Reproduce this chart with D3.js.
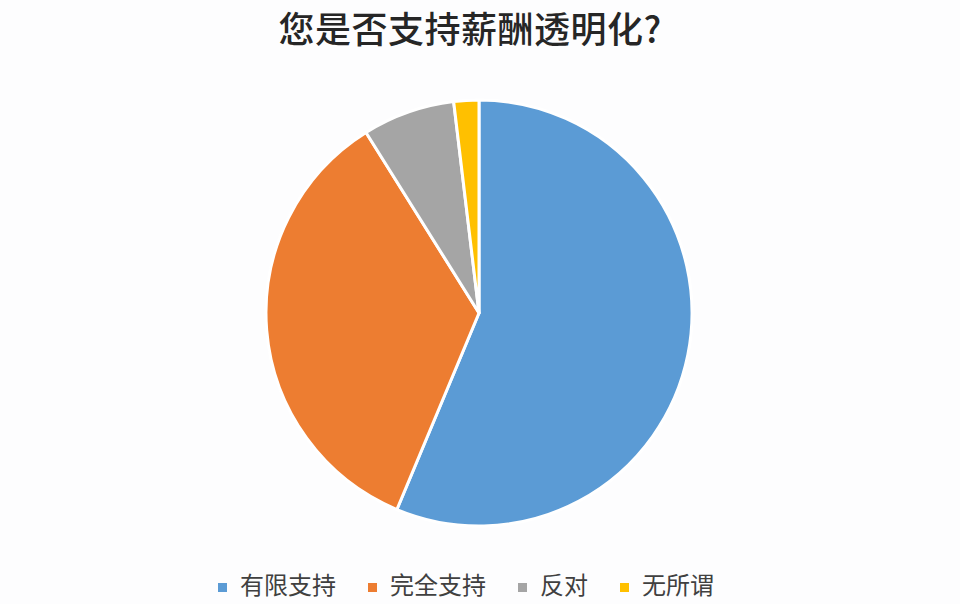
<!DOCTYPE html>
<html>
<head>
<meta charset="utf-8">
<script src="https://cdn.jsdelivr.net/npm/d3@7/dist/d3.min.js"></script>
<style>
  body { margin: 0; background: #fff; }
  text { font-family: "Noto Sans CJK SC", "Noto Sans", sans-serif; }
</style>
</head>
<body>
<div id="viz"></div>
<script>
// data
var categories = ["有限支持", "完全支持", "反对", "无所谓"];
var values = [56.3, 34.8, 7.0, 1.9];
var colors = ["#5b9bd5", "#ed7d31", "#a5a5a5", "#ffc000"];
var title = "您是否支持薪酬透明化?";

var width = 960;
var height = 604;
var cx = 479, cy = 313, radius = 213;

var svg = d3.select("#viz")
  .append("svg")
  .attr("width", width)
  .attr("height", height);

svg.append("rect")
  .attr("width", width)
  .attr("height", height)
  .attr("fill", "#fdfdfe");

// title
svg.append("text")
  .text(title)
  .attr("x", 470)
  .attr("y", 43)
  .attr("text-anchor", "middle")
  .attr("font-size", "36px")
  .attr("font-weight", 500)
  .attr("letter-spacing", "0.5px")
  .attr("fill", "#262626");

// pie
var color = d3.scaleOrdinal().domain(categories).range(colors);

var pie = d3.pie()
  .sort(null)
  .value(function(d, i) { return values[i]; });

var arc = d3.arc()
  .innerRadius(0)
  .outerRadius(radius);

var slices = svg.append("g")
  .attr("transform", "translate(" + cx + "," + cy + ")")
  .selectAll("path")
  .data(pie(categories))
  .enter()
  .append("path")
  .attr("d", arc)
  .attr("fill", function(d) { return color(d.data); })
  .attr("stroke", "#ffffff")
  .attr("stroke-width", 3)
  .attr("stroke-linejoin", "round");

// legend
var legend = svg.append("g");
var lx = 218;
categories.forEach(function(c, i) {
  var item = legend.append("g");
  item.append("rect")
    .attr("x", lx)
    .attr("y", 583)
    .attr("width", 9)
    .attr("height", 9)
    .attr("fill", color(c));
  var t = item.append("text")
    .text(c)
    .attr("x", lx + 22)
    .attr("y", 594)
    .attr("font-size", "24px")
    .attr("fill", "#404040");
  lx = lx + 22 + t.node().getComputedTextLength() + 32;
});
</script>
</body>
</html>
